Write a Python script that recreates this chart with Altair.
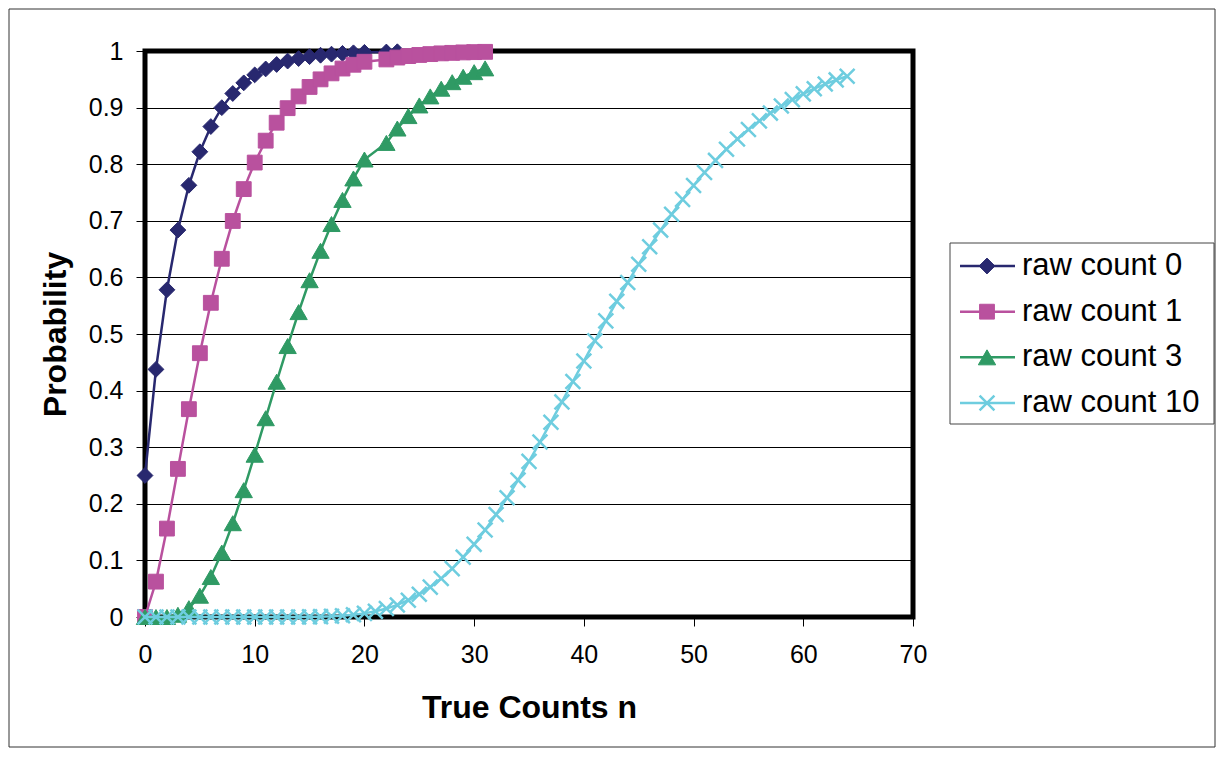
import altair as alt
import pandas as pd

labels = ["raw count 0", "raw count 1", "raw count 3", "raw count 10"]
colors = ["#28286F", "#B9519E", "#2F9A64", "#6ECDDF"]
shapes = ["diamond", "square", "triangle-up", "M-1,-1L1,1M-1,1L1,-1"]
x_ticks = [0, 10, 20, 30, 40, 50, 60, 70]
y_ticks = [0, 0.1, 0.2, 0.3, 0.4, 0.5, 0.6, 0.7, 0.8, 0.9, 1]

# true counts n (the first three series skip n = 21)
x_rc0 = [0, 1, 2, 3, 4, 5, 6, 7, 8, 9, 10, 11, 12, 13, 14, 15, 16, 17, 18, 19, 20,
         22, 23]
x_rc1 = [0, 1, 2, 3, 4, 5, 6, 7, 8, 9, 10, 11, 12, 13, 14, 15, 16, 17, 18, 19, 20,
         22, 23, 24, 25, 26, 27, 28, 29, 30, 31]
x_rc3 = [0, 1, 2, 3, 4, 5, 6, 7, 8, 9, 10, 11, 12, 13, 14, 15, 16, 17, 18, 19, 20,
         22, 23, 24, 25, 26, 27, 28, 29, 30, 31]
x_rc10 = [0, 1, 2, 3, 4, 5, 6, 7, 8, 9, 10, 11, 12, 13, 14, 15, 16, 17, 18, 19, 20,
          21, 22, 23, 24, 25, 26, 27, 28, 29, 30, 31, 32, 33, 34, 35, 36, 37, 38, 39,
          40, 41, 42, 43, 44, 45, 46, 47, 48, 49, 50, 51, 52, 53, 54, 55, 56, 57, 58,
          59, 60, 61, 62, 63, 64]

p_rc0 = [0.25, 0.4375, 0.5781, 0.6836, 0.7627, 0.822, 0.8665, 0.8999, 0.9249, 0.9437,
         0.9578, 0.9683, 0.9762, 0.9822, 0.9866, 0.99, 0.9925, 0.9944, 0.9958, 0.9968,
         0.9976, 0.9982, 0.9987]
p_rc1 = [0, 0.0625, 0.1562, 0.2617, 0.3672, 0.4661, 0.5551, 0.6329, 0.6997, 0.756,
         0.8029, 0.8416, 0.8733, 0.899, 0.9198, 0.9365, 0.9499, 0.9605, 0.969, 0.9757,
         0.981, 0.9851, 0.9884, 0.991, 0.993, 0.9945, 0.9958, 0.9967, 0.9975, 0.998,
         0.9985]
p_rc3 = [0, 0, 0, 0.0039, 0.0156, 0.0376, 0.0706, 0.1138, 0.1657, 0.2241, 0.2867,
         0.3512, 0.4157, 0.4787, 0.5387, 0.595, 0.647, 0.6943, 0.7369, 0.7748, 0.8083,
         0.8376, 0.863, 0.885, 0.9038, 0.9198, 0.9334, 0.9449, 0.9545, 0.9626, 0.9693]
p_rc10 = [0, 0, 0, 0, 0, 0, 0, 0, 0, 0, 0.0, 0.0, 0.0, 0.0, 0.0001, 0.0003, 0.0006,
          0.0012, 0.0023, 0.0039, 0.0064, 0.01, 0.0149, 0.0213, 0.0297, 0.0401, 0.0528,
          0.0679, 0.0855, 0.1057, 0.1284, 0.1536, 0.181, 0.2106, 0.2419, 0.2749, 0.3091,
          0.3442, 0.38, 0.4161, 0.4522, 0.488, 0.5232, 0.5577, 0.5911, 0.6233, 0.6542,
          0.6836, 0.7115, 0.7378, 0.7624, 0.7854, 0.8067, 0.8265, 0.8446, 0.8613,
          0.8765, 0.8903, 0.9028, 0.9141, 0.9243, 0.9334, 0.9416, 0.9489, 0.9553]

series_x = [x_rc0, x_rc1, x_rc3, x_rc10]
series_p = [p_rc0, p_rc1, p_rc3, p_rc10]
marker_size = [250, 220, 300, 220]
marker_sw = [1, 1, 1, 2.5]

FONT = "Liberation Sans"
W, H = 768, 566

color_scale = alt.Scale(domain=labels, range=colors)
shape_scale = alt.Scale(domain=labels, range=shapes)

x_enc = alt.X("x:Q", scale=alt.Scale(domain=[0, 70], nice=False),
              axis=alt.Axis(values=x_ticks, title="True Counts n", grid=False,
                            labelPadding=16, labelFlush=False, titleY=90, titleX=W / 2,
                            titleBaseline="middle"))
y_enc = alt.Y("p:Q", scale=alt.Scale(domain=[0, 1], nice=False),
              axis=alt.Axis(values=y_ticks, title="Probability", grid=True,
                            format=".1~f", labelPadding=13, labelFlush=False,
                            titleX=-90, titleY=H / 2, titleBaseline="middle"))

data_layers = []
for i, lab in enumerate(labels):
    df = pd.DataFrame({"x": series_x[i], "p": series_p[i], "label": lab})
    base = alt.Chart(df)
    data_layers.append(base.mark_line(strokeWidth=2.5).encode(
        x=x_enc, y=y_enc,
        color=alt.Color("label:N", scale=color_scale, legend=None)))
    data_layers.append(base.mark_point(filled=True, opacity=1, size=marker_size[i],
                                       strokeWidth=marker_sw[i]).encode(
        x=x_enc, y=y_enc,
        fill=alt.Fill("label:N", scale=color_scale, legend=None),
        stroke=alt.Stroke("label:N", scale=color_scale, legend=None),
        shape=alt.Shape("label:N", scale=shape_scale, legend=None)))

data_chart = alt.layer(*data_layers)

one = pd.DataFrame({"k": [0]})
outer_box = alt.Chart(one).mark_rect(fillOpacity=0, stroke="#333333", strokeWidth=1).encode(
    x=alt.value(-136), x2=alt.value(1070), y=alt.value(-42), y2=alt.value(696))
legend_box = alt.Chart(one).mark_rect(fillOpacity=0, stroke="#444444", strokeWidth=1).encode(
    x=alt.value(805), x2=alt.value(1069), y=alt.value(192), y2=alt.value(373))

leg_y = alt.Y("label:N", sort=labels,
              scale=alt.Scale(type="point", domain=labels, range=[215, 352], padding=0),
              axis=None)
legend_layers = [outer_box, legend_box]
for i, lab in enumerate(labels):
    ldf = pd.DataFrame({"label": [lab]})
    lb = alt.Chart(ldf)
    legend_layers.append(lb.mark_rule(strokeWidth=2.5).encode(
        x=alt.value(815), x2=alt.value(870), y=leg_y,
        color=alt.Color("label:N", scale=color_scale, legend=None)))
    legend_layers.append(lb.mark_point(filled=True, opacity=1, size=marker_size[i],
                                       strokeWidth=marker_sw[i]).encode(
        x=alt.value(842), y=leg_y,
        fill=alt.Fill("label:N", scale=color_scale, legend=None),
        stroke=alt.Stroke("label:N", scale=color_scale, legend=None),
        shape=alt.Shape("label:N", scale=shape_scale, legend=None)))
    legend_layers.append(lb.mark_text(align="left", baseline="middle", fontSize=31,
                                      font=FONT, color="black").encode(
        x=alt.value(877), y=leg_y, text="label:N"))

legend_chart = alt.layer(*legend_layers)

chart = alt.layer(data_chart, legend_chart).resolve_scale(y="independent").properties(
    width=W, height=H,
    padding={"left": 137, "top": 43, "right": 304, "bottom": 131},
    autosize=alt.AutoSizeParams(type="none"),
).configure(font=FONT).configure_view(
    stroke="black", strokeWidth=5
).configure_axis(
    domain=False, tickColor="black", tickSize=9, tickWidth=1,
    gridColor="black", gridWidth=1, gridOpacity=1,
    labelFont=FONT, labelFontSize=25, labelColor="black",
    titleFont=FONT, titleFontSize=32, titleFontWeight="bold", titleColor="black",
)

chart.save("out.html", embed_options={"renderer": "svg", "actions": False})
